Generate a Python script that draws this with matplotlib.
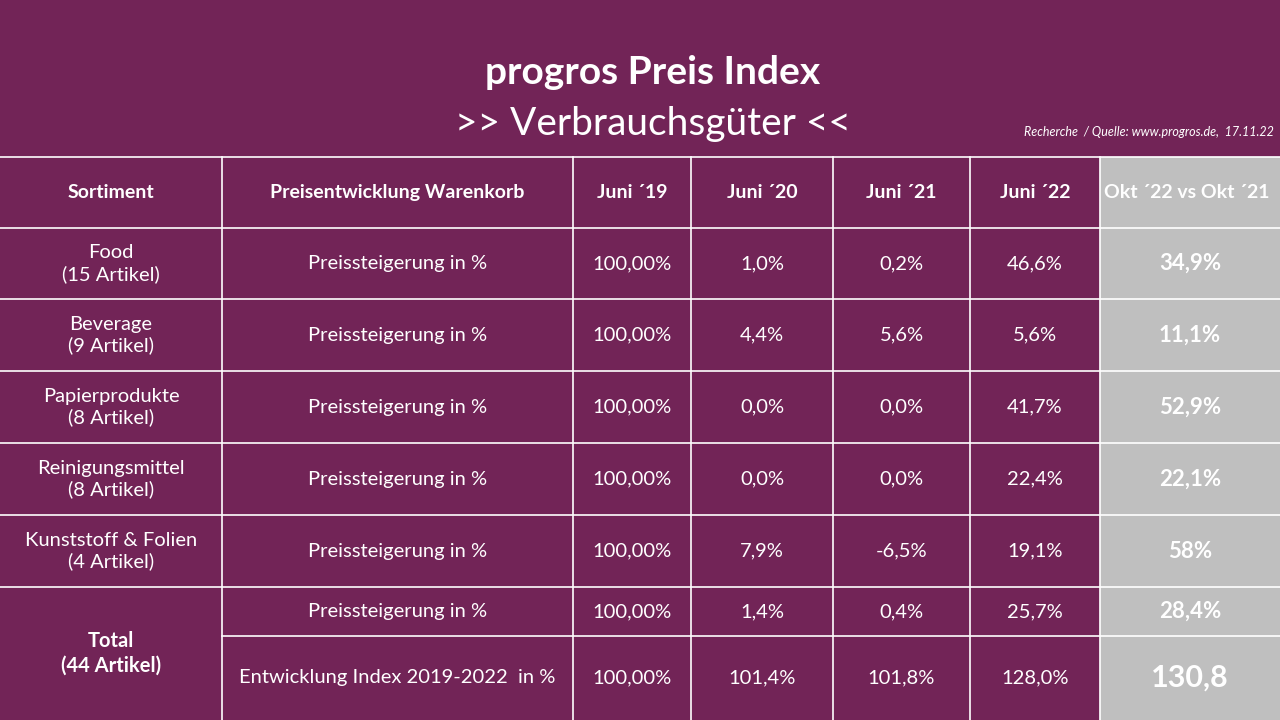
import matplotlib.pyplot as plt

plt.rcParams['font.family'] = 'Lato'

bg = '#722457'
grey = '#BFBFBF'

headers = ['Sortiment', 'Preisentwicklung Warenkorb', 'Juni ´19', 'Juni ´20', 'Juni ´21', 'Juni ´22', 'Okt ´22 vs Okt ´21']
sortiment = ['Food\n(15 Artikel)', 'Beverage\n(9 Artikel)', 'Papierprodukte\n(8 Artikel)',
             'Reinigungsmittel\n(8 Artikel)', 'Kunststoff & Folien\n(4 Artikel)']
juni19 = ['100,00%'] * 5
juni20 = ['1,0%', '4,4%', '0,0%', '0,0%', '7,9%']
juni21 = ['0,2%', '5,6%', '0,0%', '0,0%', '-6,5%']
juni22 = ['46,6%', '5,6%', '41,7%', '22,4%', '19,1%']
okt = ['34,9%', '11,1%', '52,9%', '22,1%', '58%']
total_rows = [
    ['Preissteigerung in %', '100,00%', '1,4%', '0,4%', '25,7%', '28,4%'],
    ['Entwicklung Index 2019-2022  in %', '100,00%', '101,4%', '101,8%', '128,0%', '130,8'],
]

col_x = [0, 222, 573, 691, 833, 970, 1100, 1280]
row_y = [157, 228, 299, 371, 443, 515, 587, 636, 720]

fig = plt.figure(figsize=(12.8, 7.2), dpi=100, facecolor=bg)
ax = fig.add_axes([0, 0, 1, 1])
ax.set_xlim(0, 1280)
ax.set_ylim(720, 0)
ax.axis('off')
ax.set_facecolor(bg)

ax.add_patch(plt.Rectangle((col_x[6], row_y[0]), col_x[7] - col_x[6], 720 - row_y[0], color=grey, zorder=0))

lw = 1.2
for y in row_y[:-1]:
    x0 = col_x[1] if y == 636 else 0
    ax.plot([x0, 1280], [y, y], color='white', lw=lw)
for x in col_x[1:-1]:
    ax.plot([x, x], [row_y[0], 720], color='white', lw=lw)

ax.text(653, 73, 'progros Preis Index', ha='center', va='center', color='white', fontsize=28, fontweight='bold')
ax.text(653, 124, '>> Verbrauchsgüter <<', ha='center', va='center', color='white', fontsize=28)
ax.text(1274, 132, 'Recherche  / Quelle: www.progros.de,  17.11.22', ha='right', va='center',
        color='white', fontsize=9, style='italic')

def cx(i):
    return (col_x[i] + col_x[i + 1]) / 2

for i, h in enumerate(headers):
    t = ax.text(cx(i), (row_y[0] + row_y[1]) / 2, h, ha='center', va='center', color='white',
                fontsize=14, fontweight='bold', clip_on=True)
    if i == 6:
        t.set_position((1104, (row_y[0] + row_y[1]) / 2))
        t.set_ha('left')

for r in range(5):
    yc = (row_y[r + 1] + row_y[r + 2]) / 2
    vals = [sortiment[r], 'Preissteigerung in %', juni19[r], juni20[r], juni21[r], juni22[r]]
    for i, v in enumerate(vals):
        ax.text(cx(i), yc, v, ha='center', va='center', color='white', fontsize=14.5, linespacing=1.25)
    ax.text(cx(6), yc, okt[r], ha='center', va='center', color='white', fontsize=16, fontweight='bold')

ax.text(cx(0), (row_y[6] + row_y[8]) / 2, 'Total\n(44 Artikel)', ha='center', va='center',
        color='white', fontsize=14.5, fontweight='bold', linespacing=1.3)
for k, row in enumerate(total_rows):
    yc = (row_y[6 + k] + row_y[7 + k]) / 2
    for i, v in enumerate(row[:-1]):
        ax.text(cx(i + 1), yc, v, ha='center', va='center', color='white', fontsize=14.5)
    ax.text(cx(6), yc, row[-1], ha='center', va='center', color='white',
            fontsize=16 if k == 0 else 22, fontweight='bold')

fig.savefig('out.png', dpi=100, facecolor=bg)
